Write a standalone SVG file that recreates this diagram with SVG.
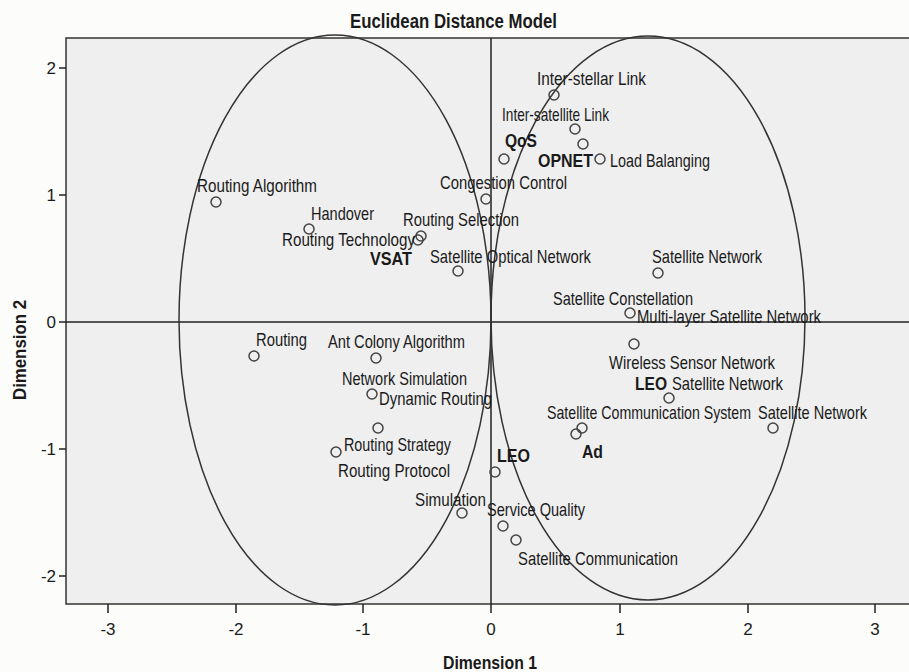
<svg xmlns="http://www.w3.org/2000/svg" width="909" height="672" viewBox="0 0 909 672">
<style>
text{font-family:"Liberation Sans Narrow","Liberation Sans",Arial,sans-serif;fill:#1a1a1a}
.l{font-size:18.5px}
.b{font-size:18.5px;font-weight:bold}
.t{font-size:17px}
.h{font-size:18px;font-weight:bold}
.pt{fill:none;stroke:#444;stroke-width:1.5}
.ax{stroke:#222;stroke-width:1.5;fill:none}
.el{fill:none;stroke:#333;stroke-width:1.5}
</style>
<rect x="0" y="0" width="909" height="672" fill="#fcfcfa"/>
<text class="h" x="350" y="28" textLength="207" lengthAdjust="spacingAndGlyphs" style="font-size:20px">Euclidean Distance Model</text>
<g id="axes">
<rect x="66" y="38" width="848" height="566" fill="#efefef" stroke="#333" stroke-width="1.5"/>
<line class="ax" x1="491" y1="38" x2="491" y2="604"/>
<line class="ax" x1="66" y1="322" x2="909" y2="322"/>
<g class="ax">
<line x1="108" y1="604" x2="108" y2="613"/><line x1="236" y1="604" x2="236" y2="613"/><line x1="363" y1="604" x2="363" y2="613"/><line x1="491" y1="604" x2="491" y2="613"/><line x1="620" y1="604" x2="620" y2="613"/><line x1="748" y1="604" x2="748" y2="613"/><line x1="875" y1="604" x2="875" y2="613"/>
<line x1="59" y1="68" x2="66" y2="68"/><line x1="59" y1="195" x2="66" y2="195"/><line x1="59" y1="322" x2="66" y2="322"/><line x1="59" y1="449" x2="66" y2="449"/><line x1="59" y1="576" x2="66" y2="576"/>
</g>
<g class="t" text-anchor="middle">
<text x="108" y="635">-3</text><text x="236" y="635">-2</text><text x="363" y="635">-1</text><text x="491" y="635">0</text><text x="620" y="635">1</text><text x="748" y="635">2</text><text x="875" y="635">3</text>
</g>
<g class="t" text-anchor="end">
<text x="56" y="74">2</text><text x="56" y="201">1</text><text x="56" y="328">0</text><text x="56" y="455">-1</text><text x="56" y="582">-2</text>
</g>
<text class="h" x="443" y="669" textLength="94" lengthAdjust="spacingAndGlyphs">Dimension 1</text>
<text class="h" x="0" y="0" transform="translate(26,400) rotate(-90)" textLength="100" lengthAdjust="spacingAndGlyphs">Dimension 2</text>
</g>
<g id="connectors">
<ellipse class="el" cx="335" cy="320" rx="156" ry="285"/>
<ellipse class="el" cx="648" cy="318" rx="157" ry="282"/>
</g>
<g id="n-interstellar"><circle class="pt" cx="554" cy="95" r="5"/><text class="l" x="537" y="85" textLength="109" lengthAdjust="spacingAndGlyphs">Inter-stellar Link</text></g>
<g id="n-intersatellite"><circle class="pt" cx="575" cy="129" r="5"/><text class="l" x="502" y="121" textLength="107" lengthAdjust="spacingAndGlyphs">Inter-satellite Link</text></g>
<g id="n-qos"><circle class="pt" cx="504" cy="159" r="5"/><text class="b" x="505" y="147" textLength="32" lengthAdjust="spacingAndGlyphs">QoS</text></g>
<g id="n-opnet"><circle class="pt" cx="583" cy="144" r="5"/><text class="b" x="538" y="167" textLength="55" lengthAdjust="spacingAndGlyphs">OPNET</text></g>
<g id="n-loadbal"><circle class="pt" cx="600" cy="159" r="5"/><text class="l" x="610" y="167" textLength="100" lengthAdjust="spacingAndGlyphs">Load Balanging</text></g>
<g id="n-congestion"><circle class="pt" cx="486" cy="199" r="5"/><text class="l" x="440" y="189" textLength="127" lengthAdjust="spacingAndGlyphs">Congestion Control</text></g>
<g id="n-routalg"><circle class="pt" cx="216" cy="202" r="5"/><text class="l" x="197" y="192" textLength="120" lengthAdjust="spacingAndGlyphs">Routing Algorithm</text></g>
<g id="n-handover"><circle class="pt" cx="309" cy="229" r="5"/><text class="l" x="311" y="220" textLength="63" lengthAdjust="spacingAndGlyphs">Handover</text></g>
<g id="n-routsel"><circle class="pt" cx="421" cy="236" r="5"/><text class="l" x="403" y="226" textLength="116" lengthAdjust="spacingAndGlyphs">Routing Selection</text></g>
<g id="n-routtech"><circle class="pt" cx="418" cy="240" r="5"/><text class="l" x="282" y="246" textLength="133" lengthAdjust="spacingAndGlyphs">Routing Technology</text></g>
<g id="n-vsat"><text class="b" x="370" y="265" textLength="42" lengthAdjust="spacingAndGlyphs">VSAT</text></g>
<g id="n-satoptical"><circle class="pt" cx="458" cy="271" r="5"/><text class="l" x="430" y="263" textLength="161" lengthAdjust="spacingAndGlyphs">Satellite Optical Network</text></g>
<g id="n-satnet1"><circle class="pt" cx="658" cy="273" r="5"/><text class="l" x="652" y="263" textLength="110" lengthAdjust="spacingAndGlyphs">Satellite Network</text></g>
<g id="n-satconst"><text class="l" x="553" y="305" textLength="140" lengthAdjust="spacingAndGlyphs">Satellite Constellation</text></g>
<g id="n-multilayer"><circle class="pt" cx="630" cy="313" r="5"/><text class="l" x="637" y="323" textLength="184" lengthAdjust="spacingAndGlyphs">Multi-layer Satellite Network</text></g>
<g id="n-wsn"><circle class="pt" cx="634" cy="344" r="5"/><text class="l" x="609" y="369" textLength="166" lengthAdjust="spacingAndGlyphs">Wireless Sensor Network</text></g>
<g id="n-leosat"><circle class="pt" cx="669" cy="398" r="5"/><text class="b" x="635" y="390" textLength="32" lengthAdjust="spacingAndGlyphs">LEO</text><text class="l" x="672" y="390" textLength="111" lengthAdjust="spacingAndGlyphs">Satellite Network</text></g>
<g id="n-satcomsys"><circle class="pt" cx="582" cy="428" r="5"/><text class="l" x="547" y="419" textLength="204" lengthAdjust="spacingAndGlyphs">Satellite Communication System</text></g>
<g id="n-satnet2"><circle class="pt" cx="773" cy="428" r="5"/><text class="l" x="758" y="419" textLength="109" lengthAdjust="spacingAndGlyphs">Satellite Network</text></g>
<g id="n-ad"><circle class="pt" cx="576" cy="434" r="5"/><text class="b" x="582" y="458" textLength="21" lengthAdjust="spacingAndGlyphs">Ad</text></g>
<g id="n-routing"><circle class="pt" cx="254" cy="356" r="5"/><text class="l" x="256" y="346" textLength="51" lengthAdjust="spacingAndGlyphs">Routing</text></g>
<g id="n-antcolony"><circle class="pt" cx="376" cy="358" r="5"/><text class="l" x="328" y="348" textLength="137" lengthAdjust="spacingAndGlyphs">Ant Colony Algorithm</text></g>
<g id="n-netsim"><text class="l" x="342" y="385" textLength="125" lengthAdjust="spacingAndGlyphs">Network Simulation</text></g>
<g id="n-dynrout"><circle class="pt" cx="372" cy="394" r="5"/><text class="l" x="379" y="405" textLength="113" lengthAdjust="spacingAndGlyphs">Dynamic Routing</text></g>
<g id="n-routstrat"><circle class="pt" cx="378" cy="428" r="5"/><text class="l" x="344" y="451" textLength="107" lengthAdjust="spacingAndGlyphs">Routing Strategy</text></g>
<g id="n-routproto"><circle class="pt" cx="336" cy="452" r="5"/><text class="l" x="338" y="477" textLength="112" lengthAdjust="spacingAndGlyphs">Routing Protocol</text></g>
<g id="n-leo"><circle class="pt" cx="495" cy="472" r="5"/><text class="b" x="497" y="462" textLength="33" lengthAdjust="spacingAndGlyphs">LEO</text></g>
<g id="n-simulation"><circle class="pt" cx="462" cy="513" r="5"/><text class="l" x="415" y="506" textLength="71" lengthAdjust="spacingAndGlyphs">Simulation</text></g>
<g id="n-servq"><circle class="pt" cx="503" cy="526" r="5"/><text class="l" x="487" y="516" textLength="98" lengthAdjust="spacingAndGlyphs">Service Quality</text></g>
<g id="n-satcom"><circle class="pt" cx="516" cy="540" r="5"/><text class="l" x="518" y="565" textLength="160" lengthAdjust="spacingAndGlyphs">Satellite Communication</text></g>
</svg>
